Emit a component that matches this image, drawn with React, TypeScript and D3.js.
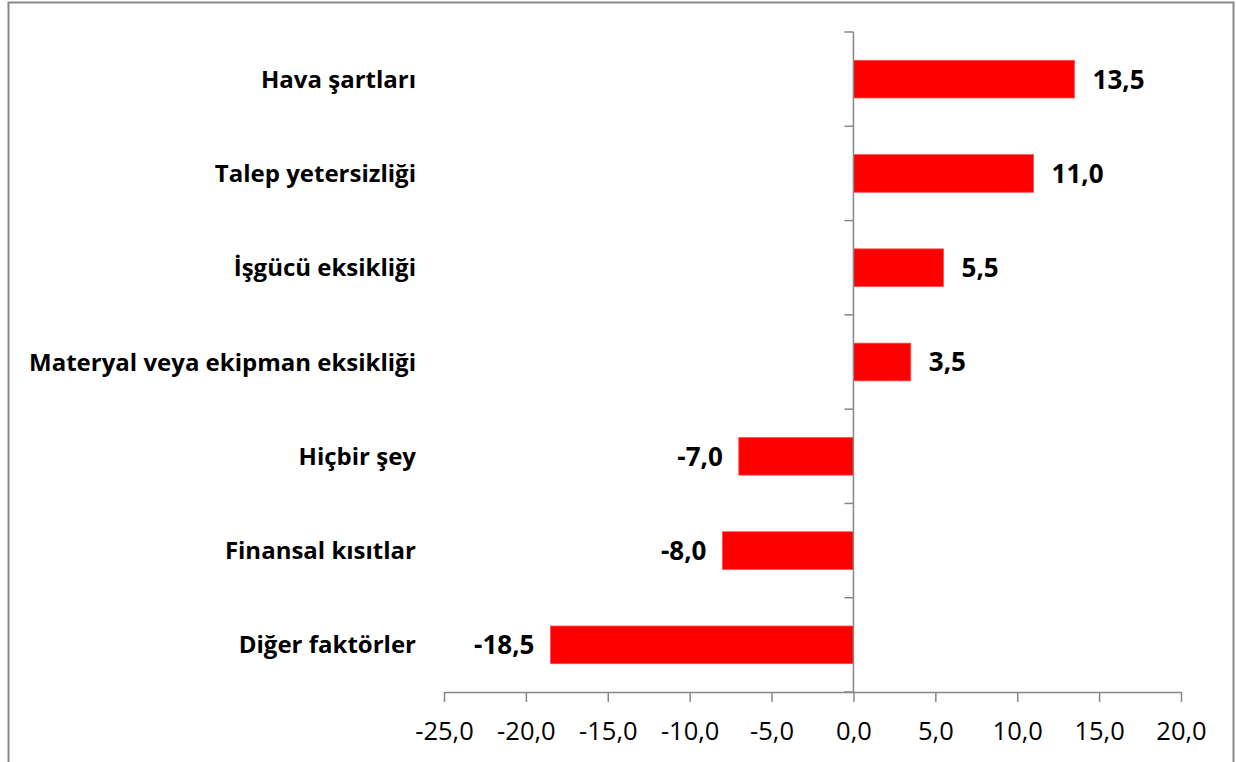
import { useEffect, useRef } from 'react'
import * as d3 from 'd3'

const categories = [
  'Hava şartları',
  'Talep yetersizliği',
  'İşgücü eksikliği',
  'Materyal veya ekipman eksikliği',
  'Hiçbir şey',
  'Finansal kısıtlar',
  'Diğer faktörler',
]
const values = [13.5, 11.0, 5.5, 3.5, -7.0, -8.0, -18.5]
const xTicks = [-25, -20, -15, -10, -5, 0, 5, 10, 15, 20]

const fmt = (v: number) => v.toFixed(1).replace('.', ',')

const App = () => {
  const ref = useRef<SVGSVGElement>(null)
  const width = 1236
  const height = 762

  useEffect(() => {
    if (!ref.current) return
    const svg = d3.select(ref.current)
    svg.selectAll('*').remove()

    const font = '"Open Sans", Lato, sans-serif'
    const axisColor = '#878787'

    // outer frame
    svg.append('rect')
      .attr('x', 8.5).attr('y', 2.5)
      .attr('width', 1225).attr('height', 800)
      .attr('fill', 'white')
      .attr('stroke', axisColor)
      .attr('stroke-width', 2)

    const x = d3.scaleLinear().domain([-25, 20]).range([444, 1181])
    const y = d3.scaleBand<string>()
      .domain(categories)
      .range([32, 692])
      .paddingInner(0.6)
      .paddingOuter(0.3)

    // bars
    svg.append('g')
      .selectAll('rect')
      .data(values)
      .enter().append('rect')
      .attr('x', d => x(Math.min(0, d)))
      .attr('y', (d, i) => y(categories[i])!)
      .attr('width', d => Math.abs(x(d) - x(0)))
      .attr('height', y.bandwidth())
      .attr('fill', '#ff0000')
      .attr('stroke', '#ff5050')
      .attr('stroke-width', 0.8)

    // value labels
    svg.append('g')
      .selectAll('text')
      .data(values)
      .enter().append('text')
      .attr('x', d => d >= 0 ? x(d) + 18 : x(d) - 16)
      .attr('y', (d, i) => y(categories[i])! + y.bandwidth() / 2)
      .attr('dy', '0.36em')
      .attr('text-anchor', d => d >= 0 ? 'start' : 'end')
      .style('font-family', font)
      .style('font-weight', 'bold')
      .style('font-size', '26px')
      .text(d => fmt(d))

    // y axis at zero
    const step = y.step()
    const yAxis = svg.append('g').attr('stroke', axisColor).attr('stroke-width', 1.5)
    yAxis.append('line')
      .attr('x1', x(0)).attr('x2', x(0))
      .attr('y1', 32).attr('y2', 692)
    d3.range(categories.length + 1).forEach(i => {
      const ty = 32 + i * step
      yAxis.append('line')
        .attr('x1', x(0) - 9).attr('x2', x(0))
        .attr('y1', ty).attr('y2', ty)
    })

    // category labels
    svg.append('g')
      .selectAll('text')
      .data(categories)
      .enter().append('text')
      .attr('x', 416)
      .attr('y', d => y(d)! + y.bandwidth() / 2)
      .attr('dy', '0.36em')
      .attr('text-anchor', 'end')
      .style('font-family', font)
      .style('font-weight', 'bold')
      .style('font-size', '24px')
      .text(d => d)

    // x axis
    const xAxis = svg.append('g')
      .attr('transform', 'translate(0,692)')
      .call(d3.axisBottom(x).tickValues(xTicks).tickSize(10).tickSizeOuter(0).tickFormat(d => fmt(+d)))
    xAxis.select('.domain').attr('stroke', axisColor).attr('stroke-width', 1.5)
    xAxis.selectAll('.tick line').attr('stroke', axisColor).attr('stroke-width', 1.5)
    xAxis.selectAll('.tick text')
      .attr('y', 30)
      .attr('dy', '0.71em')
      .attr('fill', 'black')
      .style('font-family', font)
      .style('font-size', '25.5px')
  }, [])

  return (
    <svg
      ref={ref}
      width={width}
      height={height}
      style={{ position: 'absolute', left: 0, top: 0 }}
    />
  )
}

export default App
